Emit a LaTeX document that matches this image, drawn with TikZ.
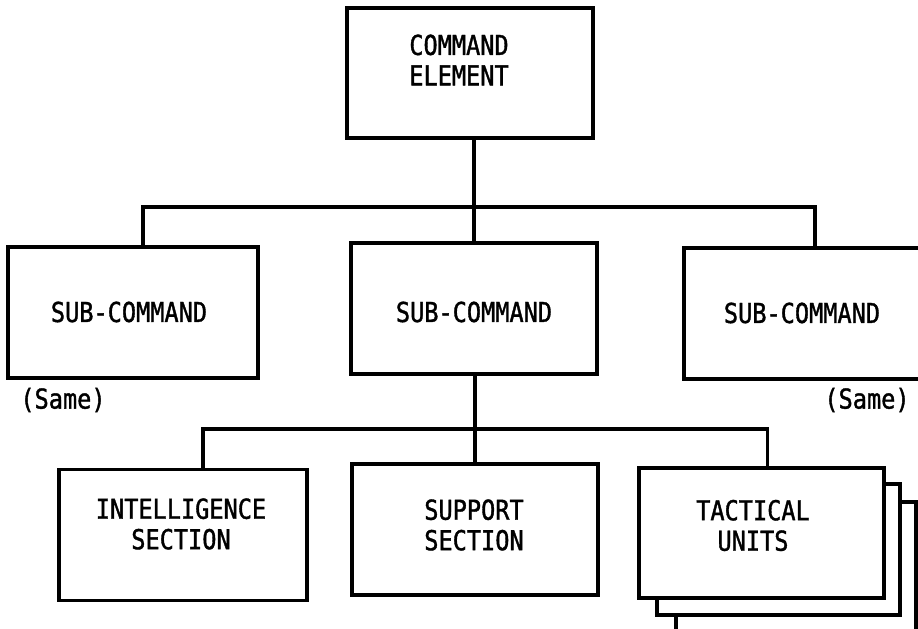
\documentclass[tikz,border=0pt]{standalone}
\usepackage{fontspec}
\newfontfamily\typefont[FakeStretch=0.86,FakeBold=1.3]{DejaVu Sans Mono}
\tikzset{
	orgbox/.style={draw, line width=2.6pt, fill=white, minimum width=7.38cm, minimum height=3.93cm, inner sep=0pt},
	orgtext/.style={font=\typefont\fontsize{23.4}{26}\selectfont, align=center, inner sep=0pt},
	link/.style={line width=2.6pt}
}

\begin{document}
\begin{tikzpicture}[x=0.03cm, y=-0.03cm]
	% page size
	\useasboundingbox (0,0) rectangle (918,629);
	\clip (0,0) rectangle (918,629);
	% top box
	\node[orgbox, minimum height=3.9cm] (cmd) at (470,73) {};
	\node[orgtext, align=left] (cmdtxt) at (459,60) {COMMAND\\ELEMENT};
	% sub-commands
	\node[orgbox, minimum width=7.5cm] (subL) at (133,312.5) {};
	\node[orgbox] (subM) at (474,308.5) {};
	\node[orgbox, minimum width=7.5cm] (subR) at (809,313.5) {};
	\node[orgtext] (subLtxt) at (129,312) {SUB-COMMAND};
	\node[orgtext] (subMtxt) at (474,312) {SUB-COMMAND};
	\node[orgtext] (subRtxt) at (802,313) {SUB-COMMAND};
	\node[orgtext] (sameL) at (63,400) {(Same)};
	\node[orgtext] (sameR) at (867,400) {(Same)};
	% sections
	\node[orgbox, minimum width=7.44cm] (intel) at (183,535) {};
	\node[orgbox] (supp) at (475,529.5) {};
	\node[orgtext] (inteltxt) at (181,524) {INTELLIGENCE\\SECTION};
	\node[orgtext] (supptxt) at (474,525) {SUPPORT\\SECTION};
	% tactical units (stacked)
	\node[orgbox, minimum width=7.2cm, minimum height=3.9cm] (tac3) at (796,567) {};
	\node[orgbox, minimum width=7.29cm, minimum height=3.93cm] (tac2) at (778.5,549.5) {};
	\node[orgbox, minimum width=7.35cm, minimum height=3.9cm] (tac1) at (761.5,533) {};
	\node[orgtext] (tactxt) at (753,525.5) {TACTICAL\\UNITS};
	% connectors
	\coordinate (b1) at (474,207);
	\coordinate (b2) at (475,429);
	\draw[link] ([xshift=0.12cm]cmd.south) -- (b1);
	\draw[link] ([xshift=0.3cm]subL.north) |- (b1) -| ([xshift=0.18cm]subR.north);
	\draw[link] (b1) -- (subM.north);
	\draw[link] ([xshift=0.03cm]subM.south) -- (supp.north);
	\draw[link] ([xshift=0.6cm]intel.north) |- (b2) -| ([xshift=0.17cm]tac1.north);
\end{tikzpicture}
\end{document}
